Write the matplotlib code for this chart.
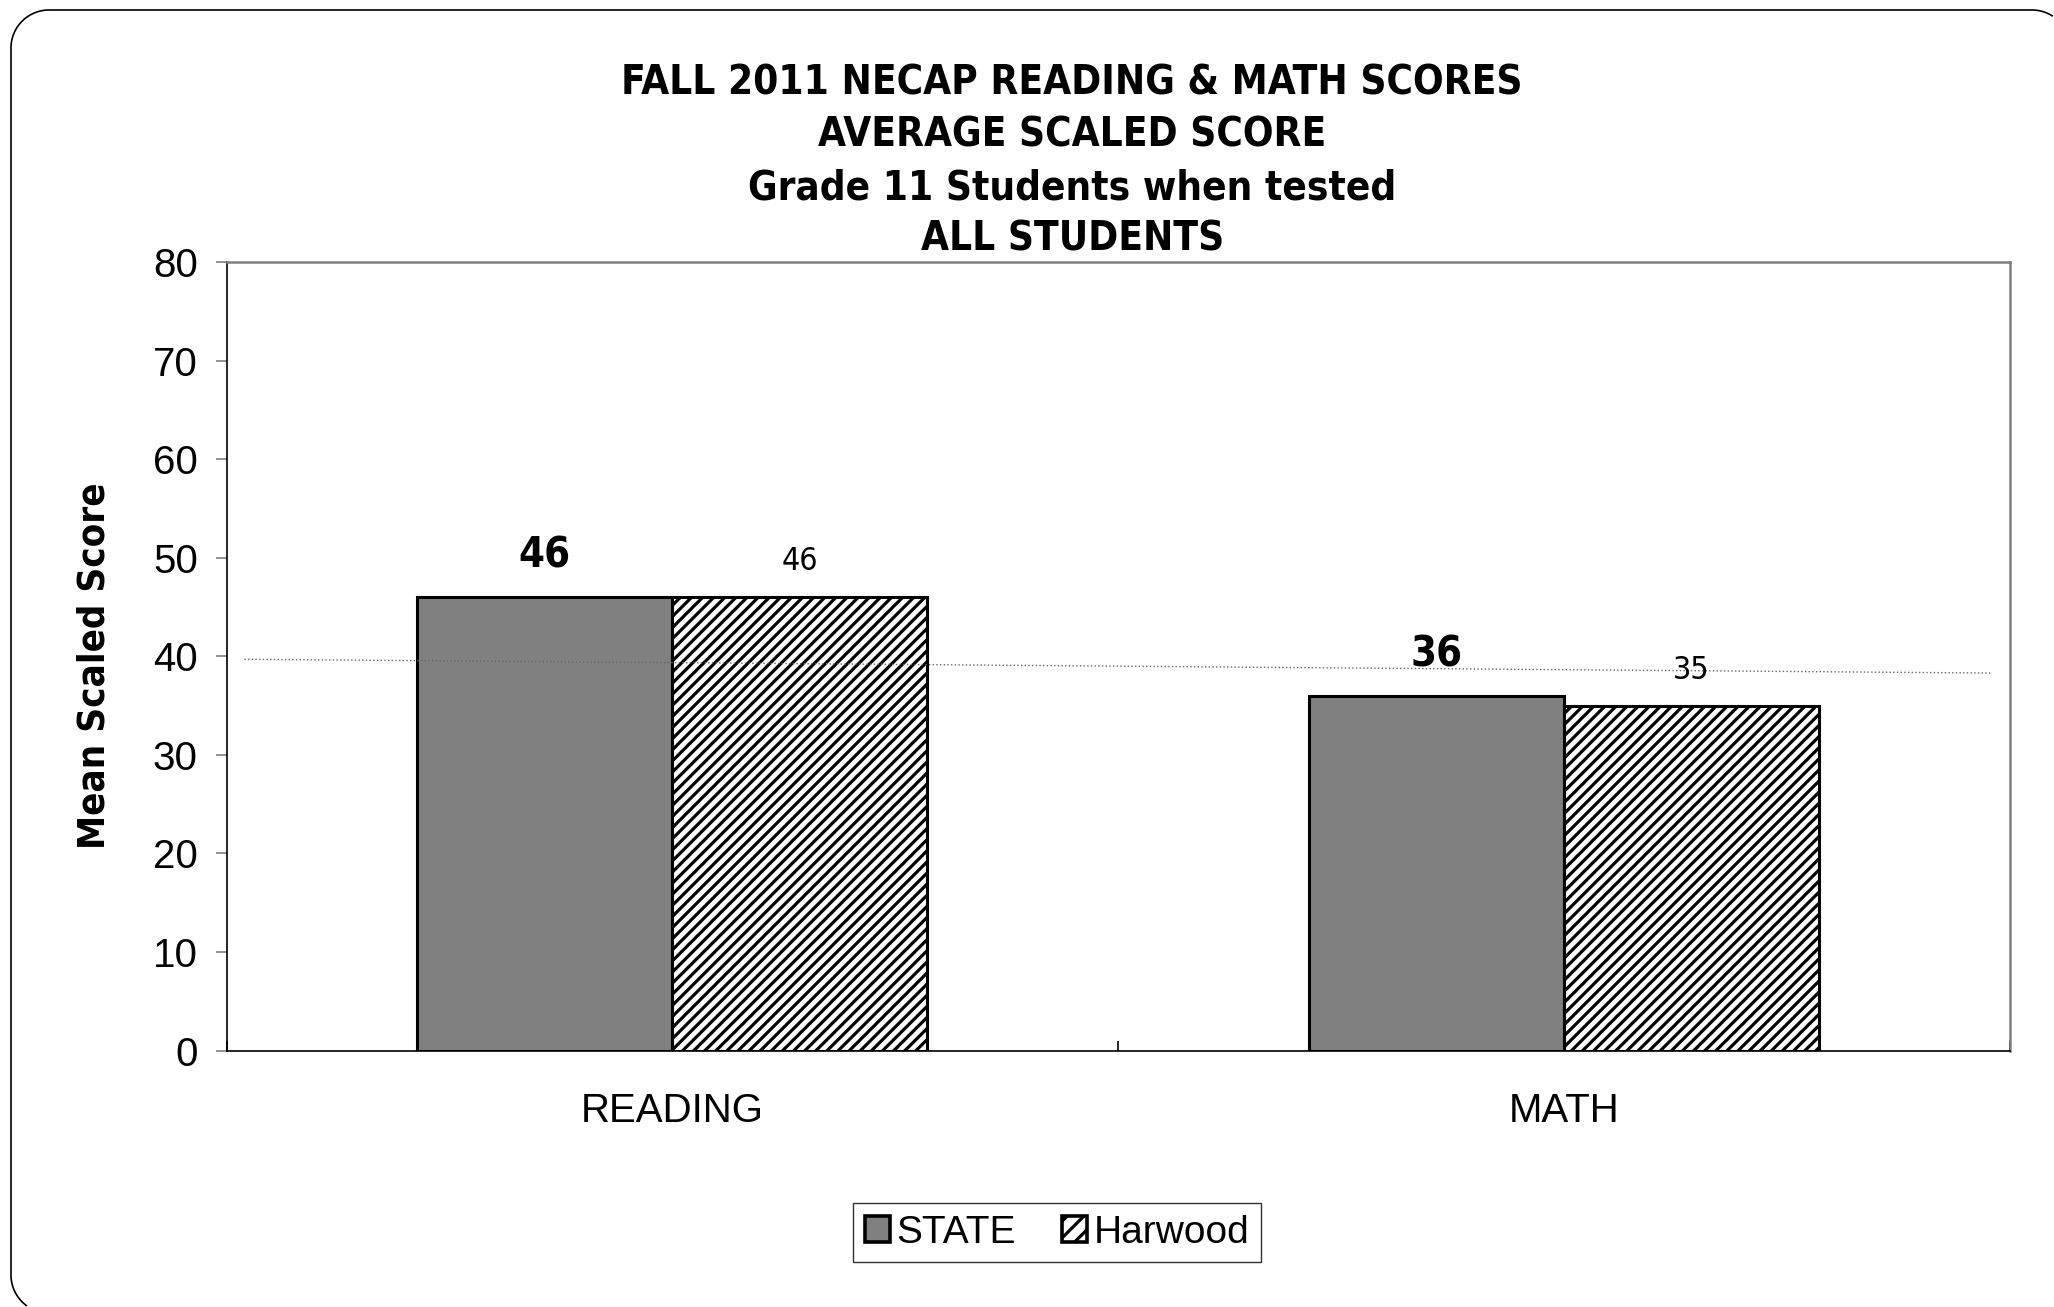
import numpy as np
import matplotlib
matplotlib.use("Agg")
import matplotlib.pyplot as plt
from matplotlib import font_manager as fm
from matplotlib.patches import Patch

# Data
categories = ["READING", "MATH"]
state_scores = [46, 36]
harwood_scores = [46, 35]
series_names = ["STATE", "Harwood"]
title_lines = ["FALL 2011 NECAP READING & MATH SCORES",
               "AVERAGE SCALED SCORE",
               "Grade 11 Students when tested",
               "ALL STUDENTS"]
trend_x = [-0.48, 1.48]
trend_y = [39.7, 38.3]

# pick a narrow font if one exists
fonts = fm.fontManager.ttflist
names = {f.name for f in fonts}
if "Liberation Sans Narrow" in names:
    narrow = dict(family="Liberation Sans Narrow")
elif any("Condensed" in f.fname and f.name == "DejaVu Sans" for f in fonts):
    narrow = dict(family="DejaVu Sans", stretch="condensed")
else:
    narrow = dict(family="Liberation Sans")

plt.rcParams['font.family'] = ['Liberation Sans', 'DejaVu Sans']
plt.rcParams['hatch.linewidth'] = 2.3
plt.rcParams['savefig.bbox'] = 'standard'

W, H = 2054, 1307
fig = plt.figure(figsize=(W / 100, H / 100), dpi=100)

# background axes in pixel units (y down) for the rounded frame
bg = fig.add_axes([0, 0, 1, 1], zorder=-1)
bg.set_xlim(0, W)
bg.set_ylim(H, 0)
bg.axis("off")
r = 38
left, top, bottom, right = 11, 10, 1313, 2070
t = np.linspace(0, np.pi / 2, 60)
xs = np.concatenate([left + r - r * np.sin(t), left + r - r * np.cos(t),
                     right - r + r * np.sin(t)])
ys = np.concatenate([bottom - r + r * np.cos(t), top + r - r * np.sin(t),
                     top + r - r * np.cos(t)])
keep = (xs <= W - 1) & (ys <= H - 1)
bg.plot(xs[keep], ys[keep], color="black", linewidth=1.2)

ax = fig.add_axes([0.1103, 0.1962, 0.8681, 0.6033])
ax.patch.set_alpha(0)

x = np.arange(len(categories))
w = 0.286
ax.bar(x - w/2, state_scores, w, color="#808080", edgecolor="black", linewidth=2.2, zorder=2)
ax.bar(x + w/2, harwood_scores, w, color="white", edgecolor="black", hatch="///", linewidth=2.2, zorder=2)

ax.plot(trend_x, trend_y, color="#666666", linestyle=":", linewidth=1, zorder=3)

for i in range(len(categories)):
    ax.annotate(str(state_scores[i]), (x[i] - w/2, state_scores[i]), xytext=(0, 30),
                textcoords="offset points", ha="center", va="center",
                fontsize=30, fontweight="bold", **narrow)
    ax.annotate(str(harwood_scores[i]), (x[i] + w/2, harwood_scores[i]), xytext=(0, 25.5),
                textcoords="offset points", ha="center", va="center",
                fontsize=23, **narrow)

ax.set_xlim(-0.5, 1.5)
ax.set_ylim(0, 80)
ax.set_yticks(np.arange(0, 81, 10))
ax.tick_params(axis="y", direction="out", length=7.6, width=1.2, color="#808080",
               labelsize=29, pad=13)
ax.set_xticks([-0.5, 0.5, 1.5])
ax.set_xticklabels([])
ax.tick_params(axis="x", which="major", direction="in", length=7, width=1.2, color="black")
ax.set_xticks(x, minor=True)
ax.set_xticklabels(categories, minor=True)
ax.tick_params(axis="x", which="minor", length=0, labelsize=29, pad=30)

for s in ["left", "bottom"]:
    ax.spines[s].set_color("black")
    ax.spines[s].set_linewidth(1.2)
for s in ["top", "right"]:
    ax.spines[s].set_color("#808080")
    ax.spines[s].set_linewidth(1.8)

ax.set_ylabel("Mean Scaled Score", fontsize=27.5, fontweight="bold", **narrow)
ax.yaxis.set_label_coords(-0.064, 0.4875)

title_y = [0.936, 0.896, 0.856, 0.817]
for line, ty in zip(title_lines, title_y):
    fig.text(0.522, ty, line, ha="center", va="center", fontsize=29,
             fontweight="bold", **narrow)

handles = [Patch(facecolor="#808080", edgecolor="black", linewidth=2.6),
           Patch(facecolor="white", edgecolor="black", hatch="//", linewidth=2.6)]
leg = fig.legend(handles, series_names, loc="center", bbox_to_anchor=(0.5146, 0.057),
                 ncol=2, fontsize=28, frameon=True, fancybox=False,
                 handlelength=0.65, handleheight=0.65, handletextpad=0.15,
                 columnspacing=1.2, borderpad=0.3)
leg.get_frame().set_edgecolor("black")
leg.get_frame().set_linewidth(1.0)

fig.savefig("out.png", dpi=100)
